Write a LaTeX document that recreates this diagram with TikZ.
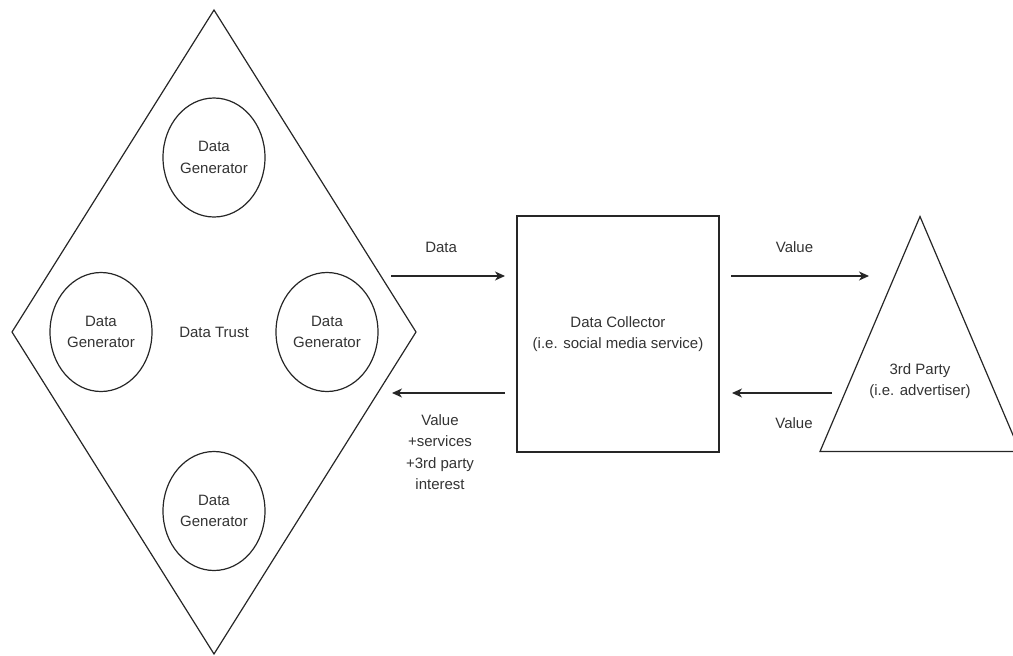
\documentclass[tikz,border=0pt]{standalone}
\usepackage{fontspec}
\setmainfont{Liberation Sans}
\usepackage{tikz}
\usetikzlibrary{shapes.geometric, arrows.meta, positioning}
\tikzstyle{arrow} = [line width=1.2pt, draw=black!85, -{Stealth[length=10pt,width=9pt,inset=3pt]}]
\tikzstyle{trust} = [diamond, draw=black!85, line width=1.2pt, minimum width=404pt, minimum height=644pt, inner sep=0pt, outer sep=0pt]
\tikzstyle{generator} = [ellipse, draw=black!85, line width=1.2pt, minimum width=102pt, minimum height=119pt, inner sep=0pt, outer sep=0pt, align=center]
\tikzstyle{process} = [rectangle, draw=black!85, line width=1.2pt, minimum width=202pt, minimum height=236pt, outer sep=0pt, align=center]
\tikzstyle{party} = [rectangle, minimum width=200pt, minimum height=235pt, inner sep=0pt, outer sep=0pt]
\tikzstyle{lbl} = [align=center, inner sep=0pt, text=black!80]

\begin{document}
\begin{tikzpicture}[x=1pt, y=-1pt, font=\fontsize{15}{21.5}\selectfont, text=black!80]
\useasboundingbox (0,0) rectangle (1013,656);
%----------------------------------------------------------------------------
% Placement of main nodes
\node (dataTrust) [trust] at (214,332) {Data Trust};

\node (genTop) [generator, above = 115pt of dataTrust.center] {Data\\Generator};
\node (genBottom) [generator, below = 119.5pt of dataTrust.center] {Data\\Generator};
\node (genLeft) [generator, left = 62pt of dataTrust.center] {Data\\Generator};
\node (genRight) [generator, right = 62pt of dataTrust.center] {Data\\Generator};

\node (collector) [process, right = 101pt of dataTrust.east, yshift=-2pt] {Data Collector\\(i.e. social media service)};

\node (thirdParty) [party, right = 101pt of collector.east] {};
\draw [draw=black!85, line width=1.2pt] (thirdParty.south west) -- (thirdParty.north) -- (thirdParty.south east) -- cycle;
\node (thirdPartyText) [lbl] at ([yshift=-47pt]thirdParty.center) {3rd Party\\(i.e. advertiser)};

%----------------------------------------------------------------------------
% Drawing of flow lines
\draw [arrow] ([xshift=-25pt,yshift=56pt]dataTrust.east) -- node[lbl, pos=0.44, yshift=29pt] (dataLbl) {Data} ([xshift=-12pt,yshift=58pt]collector.west);
\draw [arrow] ([xshift=-12pt,yshift=-59pt]collector.west) -- node[lbl, pos=0.575, yshift=-59pt] (backLbl) {Value\\+services\\+3rd party\\interest} ([xshift=-24pt,yshift=-61pt]dataTrust.east);

\draw [arrow] ([xshift=12pt,yshift=58pt]collector.east) -- node[lbl, pos=0.46, yshift=29pt] (valueLbl1) {Value} ([xshift=49pt,yshift=58pt]thirdParty.west);
\draw [arrow] ([xshift=12pt,yshift=-59pt]thirdParty.west) -- node[lbl, pos=0.38, yshift=-30pt] (valueLbl2) {Value} ([xshift=13pt,yshift=-59pt]collector.east);

\end{tikzpicture}
\end{document}
